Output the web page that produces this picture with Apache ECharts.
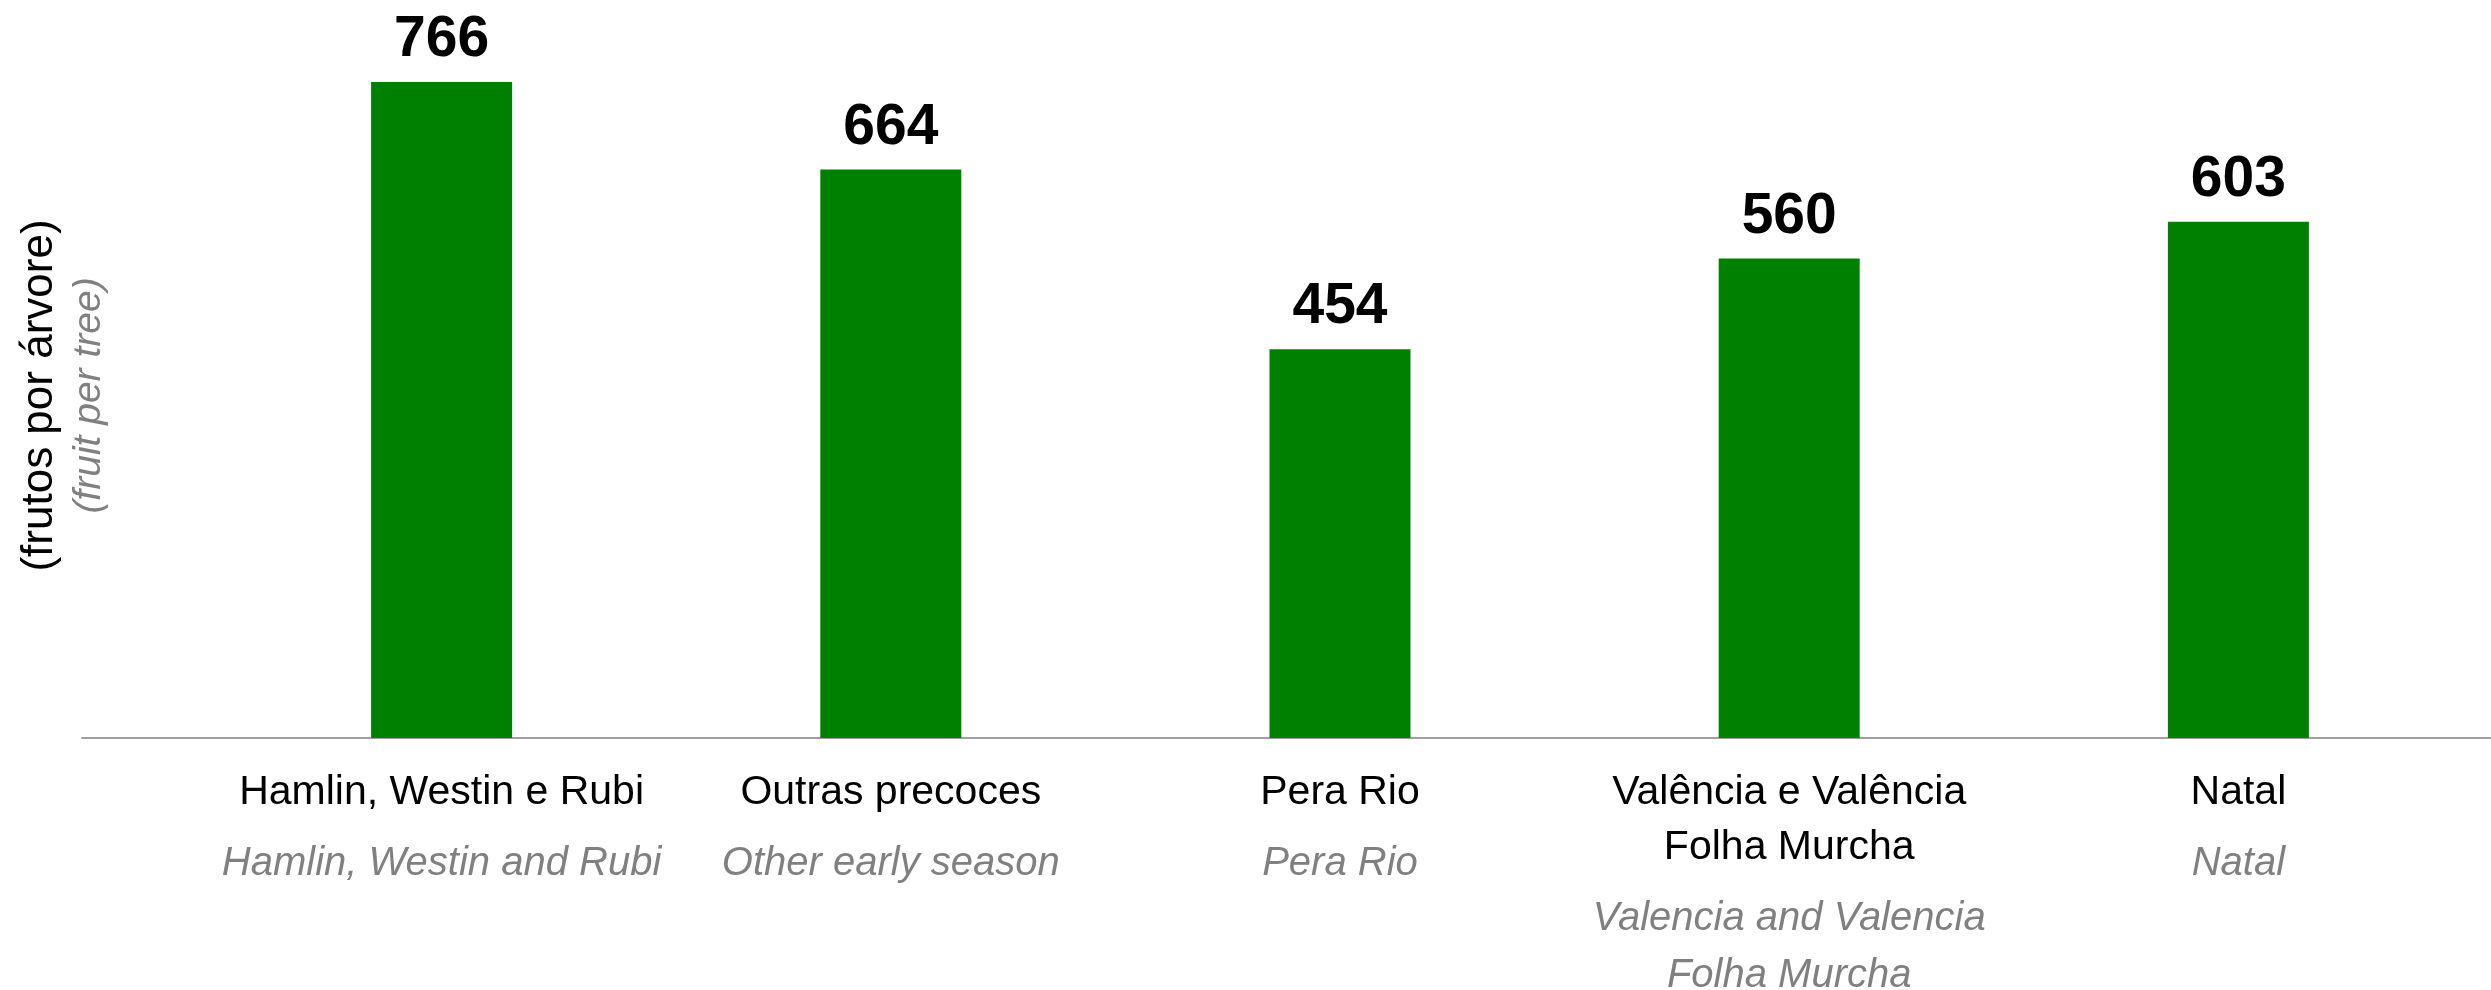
<!DOCTYPE html>
<html>
<head>
<meta charset="utf-8">
<script src="https://cdn.jsdelivr.net/npm/echarts@6/dist/echarts.min.js"></script>
<style>
  html, body { margin: 0; padding: 0; background: #fff; }
  #chart { width: 2491px; height: 990px; }
</style>
</head>
<body>
<div id="chart"></div>
<script>
  // categories (pt) and their english subtitles
  var categoriesPt = ['Hamlin, Westin e Rubi', 'Outras precoces', 'Pera Rio', 'Valência e Valência\nFolha Murcha', 'Natal'];
  var categoriesEn = ['Hamlin, Westin and Rubi', 'Other early season', 'Pera Rio', 'Valencia and Valencia\nFolha Murcha', 'Natal'];
  var fruitPerTree = [766, 664, 454, 560, 603];
  var axisNamePt = '(frutos por árvore)';
  var axisNameEn = '(fruit per tree)';

  // no narrow font installed, so the sizes are a bit smaller to keep the widths
  var narrow = "'Liberation Sans Narrow', 'Arial Narrow', 'Liberation Sans', sans-serif";

  var myChart = echarts.init(document.getElementById('chart'));

  var option = {
    backgroundColor: '#ffffff',
    animation: false,
    grid: [
      {left: 217, right: 28, top: 53, bottom: 252, outerBoundsMode: 'none'},
      // only used to draw the long baseline
      {left: 82, right: 0, top: 53, bottom: 252, outerBoundsMode: 'none'}
    ],
    xAxis: [
      {
        type: 'category',
        gridIndex: 0,
        data: categoriesPt,
        axisLine: {show: false},
        axisTick: {show: false},
        axisLabel: {
          interval: 0,
          margin: 27,
          formatter: function (value, idx) {
            var pt = value.split('\n').map(function (s) { return '{a|' + s + '}'; });
            var en = categoriesEn[idx].split('\n').map(function (s) { return '{b|' + s + '}'; });
            return pt.join('\n') + '\n{s| }\n' + en.join('\n');
          },
          rich: {
            a: {fontFamily: narrow, fontSize: 41, color: '#000000', lineHeight: 55, align: 'center'},
            s: {fontSize: 4, lineHeight: 15},
            b: {fontFamily: narrow, fontSize: 40, fontStyle: 'italic', color: '#808080', lineHeight: 57, align: 'center'}
          }
        }
      },
      {
        type: 'value',
        gridIndex: 1,
        min: 0,
        max: 1,
        axisLine: {show: true, lineStyle: {color: '#a0a0a0', width: 2}},
        axisTick: {show: false},
        axisLabel: {show: false},
        splitLine: {show: false}
      }
    ],
    yAxis: [
      {
        type: 'value',
        gridIndex: 0,
        min: 0,
        max: 800,
        axisLine: {show: false},
        axisTick: {show: false},
        axisLabel: {show: false},
        splitLine: {show: false},
        name: '{a|' + axisNamePt + '}\n{b|' + axisNameEn + '}',
        nameLocation: 'middle',
        nameRotate: 90,
        nameGap: 104,
        nameTextStyle: {
          rich: {
            a: {fontFamily: narrow, fontSize: 44, color: '#000000', lineHeight: 50, align: 'center'},
            b: {fontFamily: narrow, fontSize: 39, fontStyle: 'italic', color: '#808080', lineHeight: 48, align: 'center'}
          }
        }
      },
      {
        type: 'value',
        gridIndex: 1,
        show: false
      }
    ],
    series: [
      {
        name: 'frutos por árvore',
        type: 'bar',
        xAxisIndex: 0,
        yAxisIndex: 0,
        data: fruitPerTree,
        barWidth: 141,
        itemStyle: {color: '#008000'},
        label: {
          show: true,
          position: 'top',
          distance: 13,
          fontFamily: narrow,
          fontWeight: 'bold',
          fontSize: 57,
          color: '#000000'
        }
      }
    ]
  };

  myChart.setOption(option);
</script>
</body>
</html>
